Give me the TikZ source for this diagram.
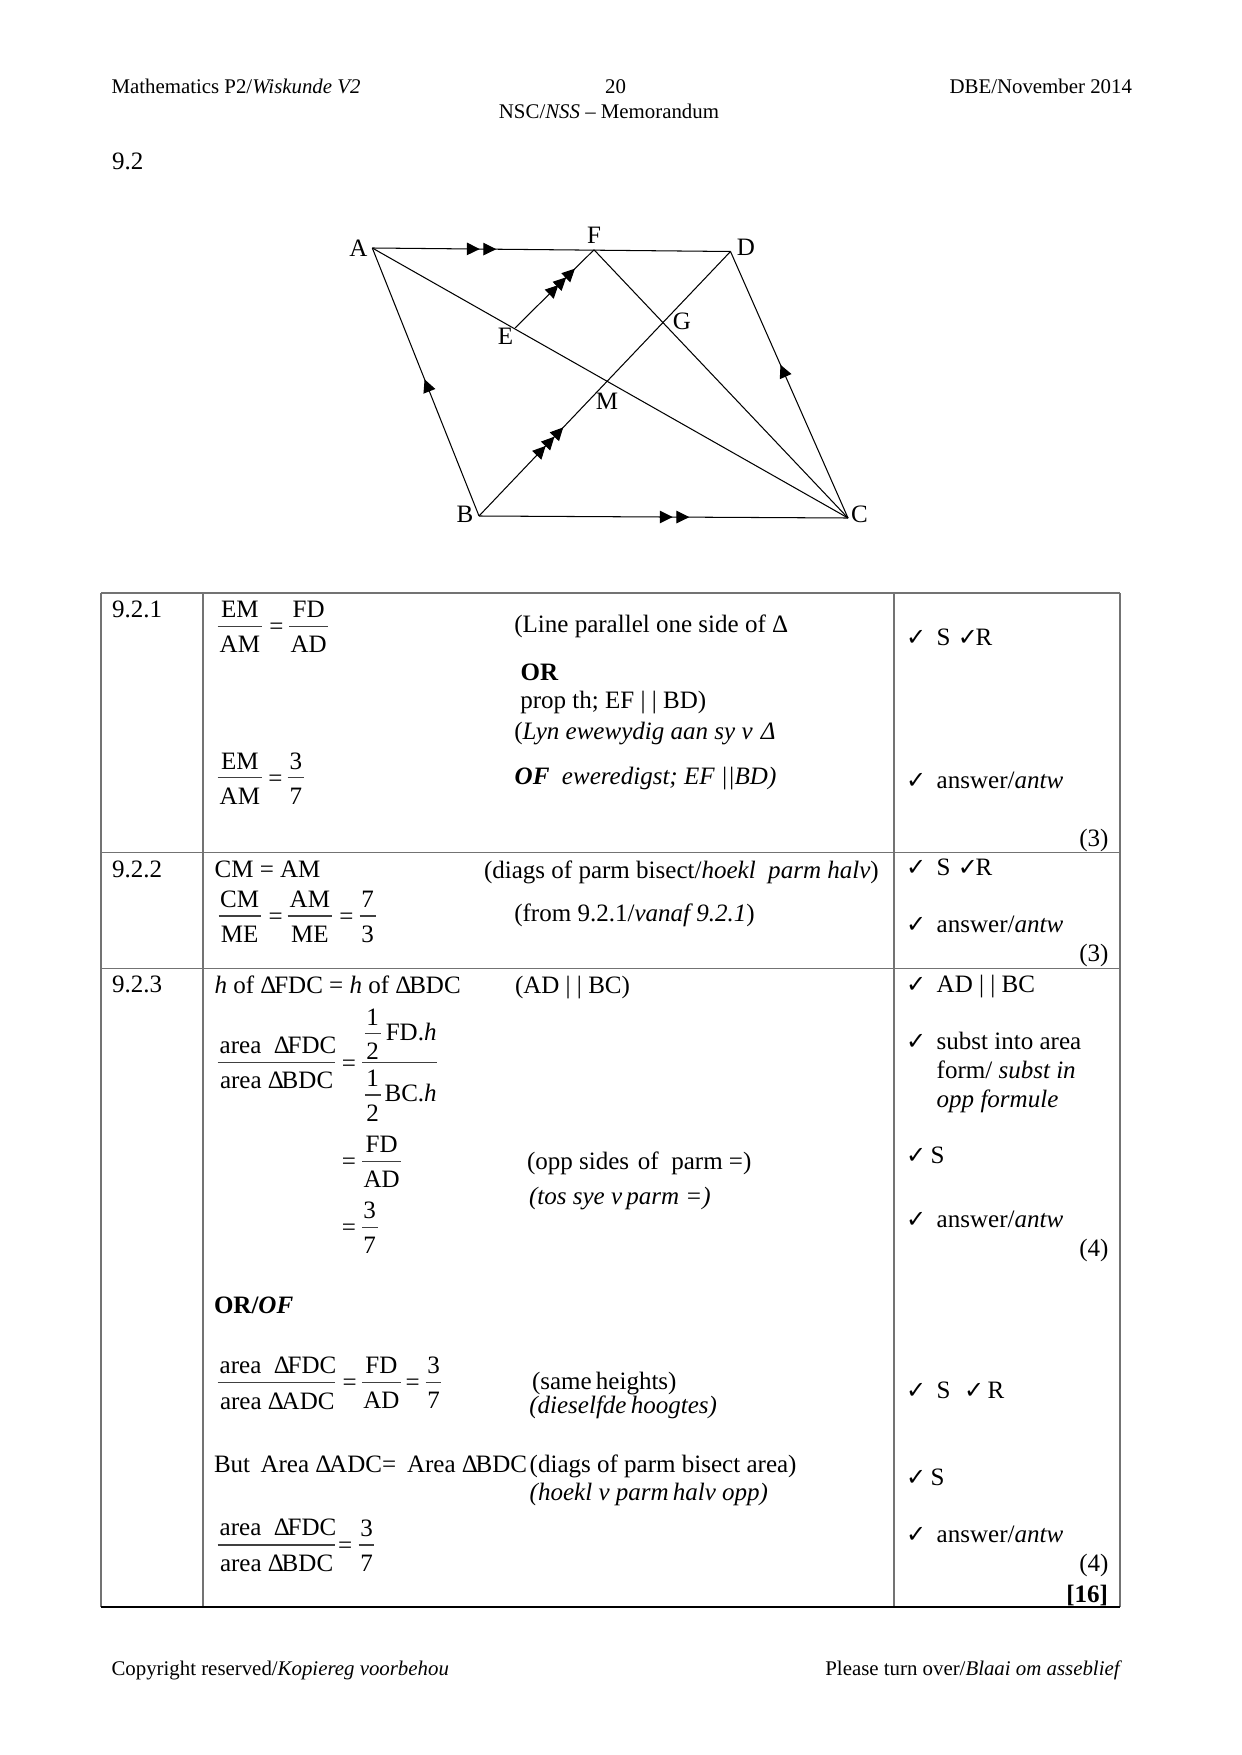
\documentclass[tikz,border=0pt]{standalone}
\usepackage{fontspec}
\usetikzlibrary{arrows.meta,decorations.markings}
\setmainfont{Liberation Serif}
\newfontfamily\ckfont{DejaVu Sans}
\newcounter{txtno}
\tikzset{
  txt/.style={inner sep=0pt,outer sep=0pt,font=\fontsize{12}{14}\selectfont},
  small/.style={font=\fontsize{10}{12}\selectfont},
  gridline/.style={draw=black!55,line width=0.75pt},
  edge/.style={draw=black,line width=0.5pt},
  barline/.style={draw=black!75,line width=0.5pt},
  mk/.style={postaction={decorate,decoration={markings,#1}}},
  head/.tip={Triangle[length=6.2pt,width=6pt]}
}
\newcommand{\TxL}[4][]{\stepcounter{txtno}\node[txt,anchor=base west,#1] (t\thetxtno) at (#2,#3) {#4};}
\newcommand{\TxC}[4][]{\stepcounter{txtno}\node[txt,anchor=base,#1] (t\thetxtno) at (#2,#3) {#4};}
\newcommand{\TxR}[4][]{\stepcounter{txtno}\node[txt,anchor=base east,#1] (t\thetxtno) at (#2,#3) {#4};}
\newcommand{\Ck}[2]{\stepcounter{txtno}\node[txt,anchor=base west] (t\thetxtno) at (#1-1.5,#2) {\ckfont\fontsize{11.5}{14}\selectfont ✓};}
\newcommand{\Dl}{Δ\kern-1.1pt}
\newcommand{\Fr}[5]{\draw[barline] (#1,#3) -- (#2,#3);
  \TxC{#1/2+#2/2}{#3-8.7}{#4}\TxC{#1/2+#2/2}{#3+26.3}{#5}}
\newcommand{\Eq}[2]{\TxC{#1+0.7}{#2+8.5}{=}}
\begin{document}
\begin{tikzpicture}[x=0.4795pt,y=-0.4795pt]
\useasboundingbox (0,0) rectangle (1241,1755);
% header
\TxL[small]{111.5}{93.5}{Mathematics P2/\textit{Wiskunde V2}}
\TxC[small]{615.5}{93.5}{20}
\TxR[small]{1132}{93.5}{DBE/November 2014}
\TxC[small]{609}{118.5}{NSC/\textit{NSS} -- Memorandum}
\TxL{112}{170}{9.2}
% figure
\coordinate (A) at (372.3,248);
\coordinate (D) at (730.5,251.5);
\coordinate (F) at (594,249.8);
\coordinate (E) at (515,328);
\coordinate (B) at (479,516);
\coordinate (C) at (848,518);
\draw[edge,mk={mark=at position 0.30 with {\arrow{head}},mark=at position 0.346 with {\arrow{head}}}] (A) -- (D);
\draw[edge,mk={mark=at position 0.525 with {\arrow{head}},mark=at position 0.57 with {\arrow{head}}}] (B) -- (C);
\draw[edge,mk={mark=at position 0.51 with {\arrow{head}}}] (B) -- (A);
\draw[edge,mk={mark=at position 0.575 with {\arrow{head}}}] (C) -- (D);
\draw[edge] (A) -- (C);
\draw[edge] (F) -- (C);
\draw[edge,mk={mark=at position 0.55 with {\arrow{head}},mark=at position 0.65 with {\arrow{head}},mark=at position 0.76 with {\arrow{head}}}] (E) -- (F);
\draw[edge,mk={mark=at position 0.265 with {\arrow{head}},mark=at position 0.30 with {\arrow{head}},mark=at position 0.335 with {\arrow{head}}}] (B) -- (D);
\node[txt] (lA) at (358.5,248.3) {A};
\node[txt] (lF) at (594,235.7) {F};
\node[txt] (lD) at (745.8,247.7) {D};
\node[txt] (lE) at (505.5,336.5) {E};
\node[txt] (lG) at (682,321.5) {G};
\node[txt] (lM) at (607,401.3) {M};
\node[txt] (lB) at (465,514) {B};
\node[txt] (lC) at (859.5,514) {C};
% table
\draw[gridline] (101,593) -- (1120,593);
\draw[gridline] (101,852.7) -- (1120,852.7);
\draw[gridline] (101,968.5) -- (1120,968.5);
\draw[gridline] (101,593) -- (101,1607);
\draw[gridline] (203,593) -- (203,1607);
\draw[gridline] (894,593) -- (894,1607);
\draw[gridline] (1120,593) -- (1120,1607);
\draw[draw=black,line width=0.65pt] (101,1607) -- (1120,1607);
% 9.2.1
\TxL{112}{617}{9.2.1}
\Fr{217.7}{262}{626.3}{EM}{AM}\Eq{275.8}{626.3}\Fr{289}{328.4}{626.3}{FD}{AD}
\Fr{217.7}{262}{777.7}{EM}{AM}\Eq{274.7}{777.7}\Fr{287.7}{304}{777.7}{3}{7}
\TxL{514.3}{632.3}{(Line parallel one side of Δ}
\TxL{520.7}{680}{\textbf{OR}}
\TxL{520.3}{708.3}{prop th; EF | | BD)}
\TxL{514.3}{739.3}{(\textit{Lyn ewewydig aan sy v\kern1pt\ Δ}}
\TxL{514.7}{784}{\textbf{\textit{OF}}\ \ \textit{eweredigst; EF ||BD)}}
\Ck{907.7}{645.5}\TxL{936.7}{645.5}{S}\Ck{959.3}{645.5}\TxL{975.7}{645.5}{R}
\Ck{907.7}{788.2}\TxL{936.7}{788.2}{answer/\textit{antw}}
\TxR{1108.5}{846}{(3)}
% 9.2.2
\TxL{112}{877}{9.2.2}
\TxL{214.6}{877.8}{CM = AM}
\TxL{484}{878}{(diags of parm bisect/\textit{hoekl\ \ parm halv})}
\Fr{218.5}{260.8}{916}{CM}{ME}\Eq{275}{916}\Fr{287.7}{332}{916}{AM}{ME}\Eq{345.8}{916}\Fr{359.7}{375.5}{916}{7}{3}
\TxL{514.3}{921.7}{(from 9.2.1/\textit{vanaf 9.2.1})}
\Ck{907.7}{875}\TxL{936.7}{875}{S}\Ck{959.3}{875}\TxL{975.7}{875}{R}
\Ck{907.7}{932.7}\TxL{936.7}{932.7}{answer/\textit{antw}}
\TxR{1108.5}{961.5}{(3)}
% 9.2.3
\TxL{112}{992.7}{9.2.3}
\TxL{214.6}{993.3}{\textit{h} of \Dl FDC = \textit{h} of \Dl BDC}
\TxL{515}{993.3}{(AD | | BC)}
\draw[barline] (217.7,1062.7) -- (335,1062.7);
\TxL{219.7}{1053.3}{area\ \ \Dl FDC}
\TxL{220}{1088.3}{area \Dl BDC}
\Eq{348.2}{1062.7}
\draw[barline] (362,1062.7) -- (437.2,1062.7);
\draw[barline] (364.8,1033.3) -- (380.6,1033.3);
\TxC{372.7}{1025}{1}\TxC{372.7}{1059.3}{2}
\TxL{385.8}{1040}{FD.\textit{h}}
\draw[barline] (364.8,1095) -- (380.6,1095);
\TxC{372.7}{1086}{1}\TxC{372.7}{1121}{2}
\TxL{384.6}{1101}{BC.\textit{h}}
\Eq{348.2}{1161.3}\Fr{362}{401.2}{1161.3}{FD}{AD}
\TxL{527}{1169}{(opp sides\kern1.2pt\ of\ \ parm =)}
\TxL{529}{1204.5}{\textit{(tos sye v\kern-1pt\ parm =)}}
\Eq{348.2}{1227.3}\Fr{362}{377.5}{1227.3}{3}{7}
\TxL{214}{1313.3}{\textbf{OR/\textit{OF}}}
\draw[barline] (217.7,1382.3) -- (335,1382.3);
\TxL{219.7}{1373}{area\ \ \Dl FDC}
\TxL{220}{1409}{area \Dl ADC}
\Eq{349}{1382.3}\Fr{361.9}{401}{1382.3}{FD}{AD}\Eq{411.9}{1382.3}\Fr{425.7}{441.3}{1382.3}{3}{7}
\TxL{532}{1389}{(same\kern-1pt\ heights)}
\TxL{529.3}{1413.3}{\textit{(dieselfde\kern-1pt\ hoogtes)}}
\TxL{214}{1472.3}{But}
\TxL{260.5}{1472.3}{Area \Dl ADC=}
\TxL{407}{1472.3}{Area \Dl BDC}
\TxL{529.7}{1472.3}{(diags of parm bisect area)}
\TxL{529.7}{1500}{\textit{(hoekl v parm\kern-1pt\ halv opp)}}
\draw[barline] (217.7,1545) -- (335,1545);
\TxL{219.7}{1535}{area\ \ \Dl FDC}
\TxL{220}{1571}{area \Dl BDC}
\Eq{344.5}{1545}\Fr{358.7}{374.4}{1545}{3}{7}
% marks 9.2.3
\Ck{907.7}{992.8}\TxL{936.7}{992.8}{AD | | BC}
\Ck{907.7}{1049.2}\TxL{936.7}{1049.2}{subst into area}
\TxL{936.7}{1078}{form/ \textit{subst in}}
\TxL{936.7}{1107}{\textit{opp formule}}
\Ck{907.7}{1163}\TxL{930.7}{1163}{S}
\Ck{907.7}{1227.3}\TxL{936.7}{1227.3}{answer/\textit{antw}}
\TxR{1108.5}{1256.7}{(4)}
\Ck{907.7}{1398.3}\TxL{936.7}{1398.3}{S}\Ck{965.7}{1398.3}\TxL{987.7}{1398.3}{R}
\Ck{907.7}{1485}\TxL{930.7}{1485}{S}
\Ck{907.7}{1542.3}\TxL{936.7}{1542.3}{answer/\textit{antw}}
\TxR{1108.5}{1571.7}{(4)}
\TxR{1108}{1602.5}{\textbf{[16]}}
% footer
\TxL[small]{111.5}{1675}{Copyright reserved/\textit{Kopiereg voorbehou}}
\TxR[small]{1122}{1675}{Please turn over/\textit{Blaai om asseblief}}
\end{tikzpicture}
\end{document}
